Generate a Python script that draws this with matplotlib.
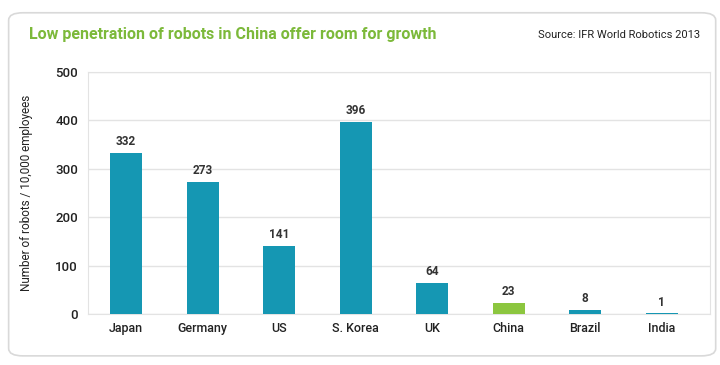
import matplotlib
matplotlib.use("Agg")
import matplotlib.pyplot as plt
from matplotlib.patches import FancyBboxPatch

# Data
countries = ["Japan", "Germany", "US", "S. Korea", "UK", "China", "Brazil", "India"]
robots_per_10k = [332, 273, 141, 396, 64, 23, 8, 1]
highlight = "China"

teal = "#1597b3"
green = "#8cc63f"
title_green = "#7cb93a"

plt.rcParams["font.family"] = ["Roboto", "DejaVu Sans"]

fig = plt.figure(figsize=(7.2, 3.65), dpi=100)

# Rounded outer frame, kept behind the axes
frame = FancyBboxPatch((0.012, 0.025), 0.982, 0.94,
                       boxstyle="round,pad=0,rounding_size=0.02",
                       transform=fig.transFigure, facecolor="white",
                       edgecolor="#d9d9d9", linewidth=1.2, zorder=-1)
fig.patches.append(frame)

ax = fig.add_axes([0.122, 0.14, 0.864, 0.663])
ax.set_facecolor("none")

colors = [green if c == highlight else teal for c in countries]
x = list(range(len(countries)))
ax.bar(x, robots_per_10k, width=0.42, color=colors, zorder=3)

for xi, v in zip(x, robots_per_10k):
    ax.text(xi, v + 10, str(v), ha="center", va="bottom",
            fontsize=8.5, fontweight="bold", color="#333333")

ax.set_ylim(0, 500)
ax.set_xlim(-0.5, 7.63)
ax.set_yticks([0, 100, 200, 300, 400, 500])
ax.set_xticks(x)
ax.set_xticklabels(countries, fontsize=9, color="#222222", fontweight="medium")
for lbl in ax.get_yticklabels():
    lbl.set_fontweight("medium")
ax.tick_params(axis="y", labelsize=9.5, colors="#222222", length=0, pad=7)
ax.tick_params(axis="x", length=0, pad=6)
ax.grid(axis="y", color="#e3e3e3", linewidth=1, zorder=0)
for s in ax.spines.values():
    s.set_color("#e3e3e3")
ax.set_ylabel("Number of robots / 10,000 employees", fontsize=8.5, color="#222222",
              labelpad=16)

fig.text(0.04, 0.905, "Low penetration of robots in China offer room for growth",
         fontsize=11.5, fontweight="bold", color=title_green, va="center")
fig.text(0.972, 0.905, "Source: IFR World Robotics 2013", fontsize=8,
         color="#222222", ha="right", va="center")

fig.savefig("out.png", dpi=100)
